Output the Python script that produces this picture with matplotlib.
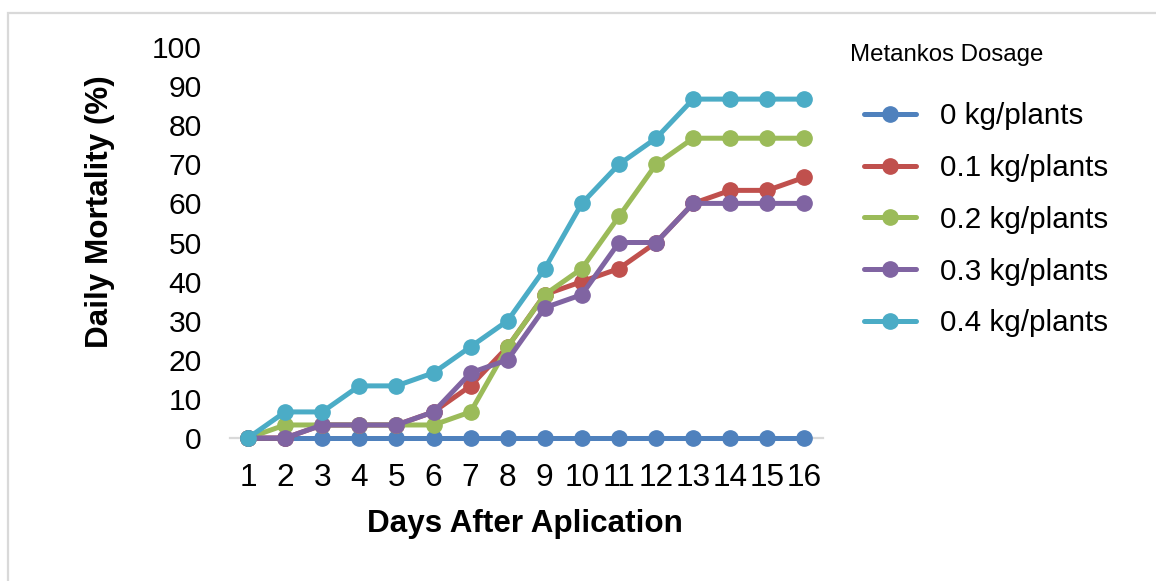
import matplotlib
matplotlib.use("Agg")
import matplotlib.pyplot as plt
from matplotlib.patches import Rectangle

plt.rcParams['font.family'] = ['Liberation Sans', 'DejaVu Sans']

days = list(range(1, 17))
day_labels = [str(d) for d in days]
series_names = ["0 kg/plants", "0.1 kg/plants", "0.2 kg/plants", "0.3 kg/plants", "0.4 kg/plants"]
dose_0 = [0, 0, 0, 0, 0, 0, 0, 0, 0, 0, 0, 0, 0, 0, 0, 0]
dose_01 = [0, 0, 3.33, 3.33, 3.33, 6.67, 13.33, 23.33, 36.67, 40, 43.33, 50, 60, 63.33, 63.33, 66.67]
dose_02 = [0, 3.33, 3.33, 3.33, 3.33, 3.33, 6.67, 23.33, 36.67, 43.33, 56.67, 70, 76.67, 76.67, 76.67, 76.67]
dose_03 = [0, 0, 3.33, 3.33, 3.33, 6.67, 16.67, 20, 33.33, 36.67, 50, 50, 60, 60, 60, 60]
dose_04 = [0, 6.67, 6.67, 13.33, 13.33, 16.67, 23.33, 30, 43.33, 60, 70, 76.67, 86.67, 86.67, 86.67, 86.67]
colors = ["#4F81BD", "#C0504D", "#9BBB59", "#8064A2", "#4BACC6"]
y_ticks = list(range(0, 101, 10))

W, H = 1156, 581
fig = plt.figure(figsize=(W / 100, H / 100), dpi=100)

# figure frame
fig.add_artist(Rectangle((8 / W, -0.1), 1.2, (H - 13) / H + 0.1, transform=fig.transFigure,
                         fill=False, edgecolor="#d9d9d9", linewidth=1.6))

ax = fig.add_axes([229.5 / W, (H - 438) / H, (823 - 229.5) / W, (438 - 47) / H])

for vals, name, c in zip([dose_0, dose_01, dose_02, dose_03, dose_04], series_names, colors):
    ax.plot(days, vals, color=c, linewidth=3.6, marker="o", markersize=11,
            label=name, solid_capstyle="round", clip_on=False, zorder=3)

ax.set_xlim(0.5, 16.5)
ax.set_ylim(0, 100)
ax.set_xticks(days)
ax.set_xticklabels(day_labels)
ax.set_yticks(y_ticks)
for s in ["top", "right", "left"]:
    ax.spines[s].set_visible(False)
ax.spines["bottom"].set_color("#d9d9d9")
ax.spines["bottom"].set_linewidth(1.6)
ax.spines["bottom"].set_zorder(1)
ax.set_axisbelow(True)
ax.tick_params(axis="both", length=0, colors="black")
ax.tick_params(axis="x", pad=18, labelsize=22.8)
ax.tick_params(axis="y", pad=20, labelsize=21.6)

fig.text(100 / W, 1 - 212 / H, "Daily Mortality (%)", rotation=90, fontsize=22.6,
         fontweight="bold", ha="center", va="center")
fig.text(525 / W, 1 - 524 / H, "Days After Aplication", fontsize=22.6,
         fontweight="bold", ha="center", va="center")

fig.text(850 / W, 1 - 55 / H, "Metankos Dosage", fontsize=17.3, ha="left", va="center")
leg = ax.legend(loc="upper left", bbox_to_anchor=(864 / W, 1 - 102.5 / H), bbox_transform=fig.transFigure,
                frameon=False, fontsize=21.3,
                handlelength=1.76, handletextpad=0.81, labelspacing=0.8, borderpad=0,
                borderaxespad=0, markerscale=1.0)

fig.savefig("out.png", dpi=100, facecolor="white")
